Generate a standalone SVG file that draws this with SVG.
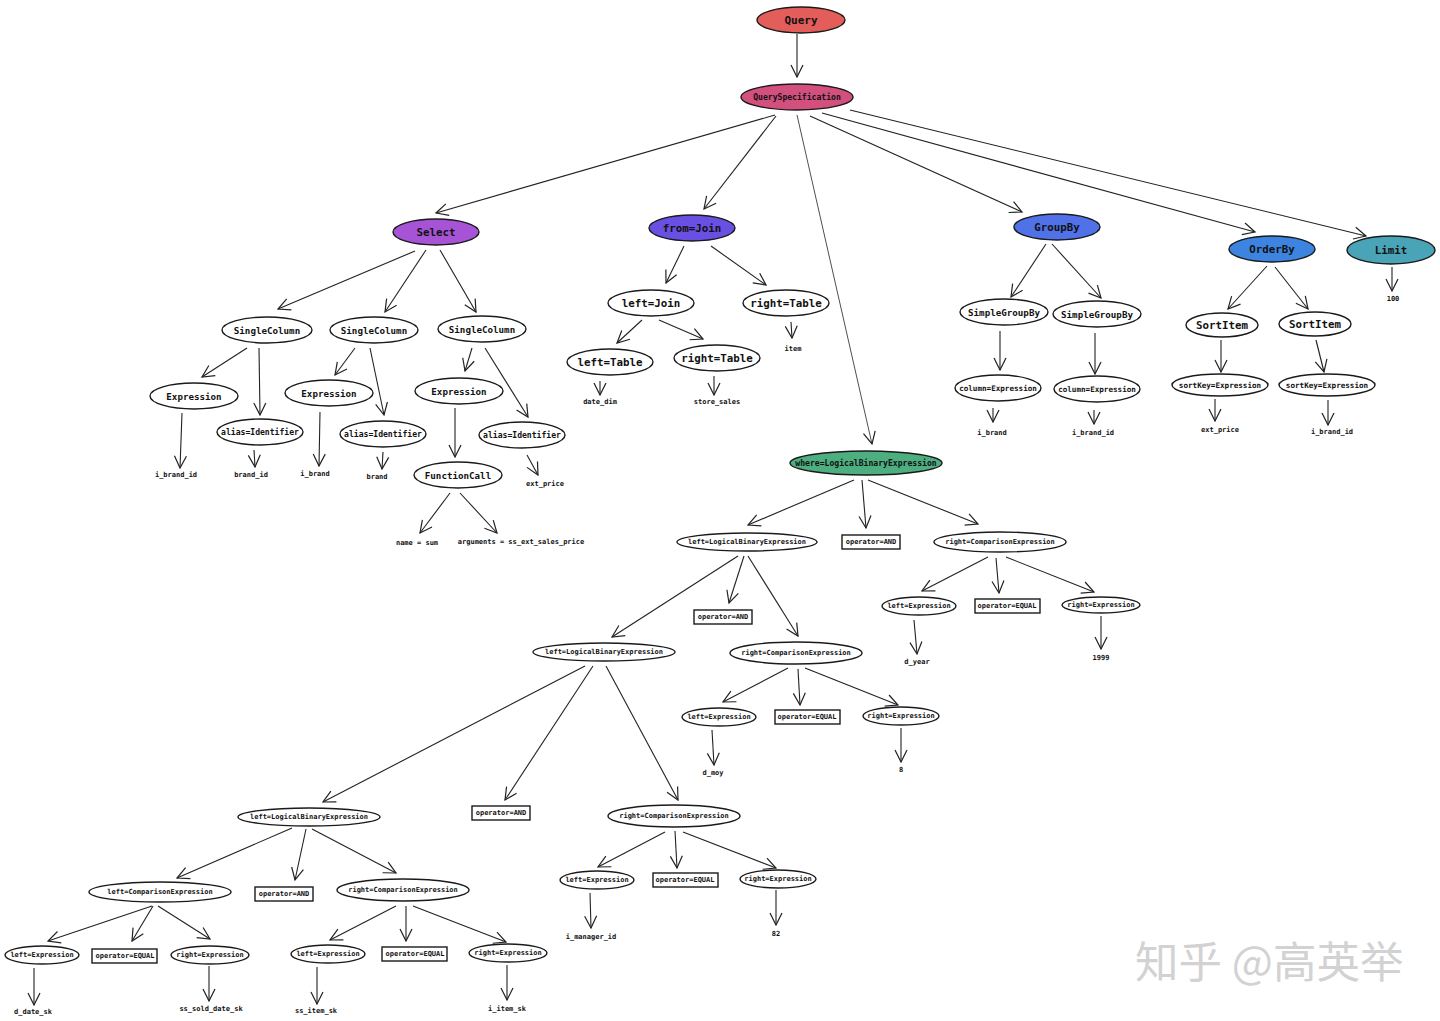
<svg xmlns="http://www.w3.org/2000/svg" width="1440" height="1021" viewBox="0 0 1440 1021">
<defs>
<marker id="a" viewBox="0 0 14 14" refX="13" refY="7" markerWidth="14" markerHeight="14" markerUnits="userSpaceOnUse" orient="auto"><path d="M1,1 L13,7 L1,13" fill="none" stroke="#222" stroke-width="1.2"/></marker>
<style>
.e{fill:#fff;stroke:#1a1a1a;stroke-width:1.4}
.r{fill:#fff;stroke:#1a1a1a;stroke-width:1.4}
text{font-family:"DejaVu Sans Mono","Liberation Mono",monospace;font-weight:bold;fill:#111;text-anchor:middle;dominant-baseline:central}
.c line{stroke:#222;stroke-width:1.1;marker-end:url(#a)}
.t11{font-size:11px}.t10{font-size:10.8px}.t9{font-size:9.2px}.t8{font-size:8.1px}.t75{font-size:7.6px}.t7{font-size:7px}
.wm{font-family:"Noto Sans CJK SC",sans-serif;font-weight:normal;font-size:43.5px;fill:#d2d2d2;text-anchor:start;dominant-baseline:auto}
</style>
</defs>
<rect width="1440" height="1021" fill="#fff"/>
<g class="c">
<line x1="797" y1="34" x2="797" y2="77"/>
<line x1="775" y1="115" x2="436" y2="213"/>
<line x1="776" y1="116" x2="704" y2="209"/>
<line x1="797" y1="115" x2="872" y2="444" style="stroke-width:0.8"/>
<line x1="810" y1="116" x2="1022" y2="212"/>
<line x1="822" y1="113" x2="1255" y2="232"/>
<line x1="850" y1="110" x2="1366" y2="236"/>
<line x1="415" y1="251" x2="278" y2="309"/>
<line x1="426" y1="250" x2="385" y2="312"/>
<line x1="440" y1="250" x2="476" y2="312"/>
<line x1="247" y1="348" x2="202" y2="377"/>
<line x1="259" y1="348" x2="260" y2="415"/>
<line x1="355" y1="348" x2="335" y2="375"/>
<line x1="370" y1="348" x2="384" y2="415"/>
<line x1="472" y1="348" x2="465" y2="371"/>
<line x1="485" y1="348" x2="528" y2="417"/>
<line x1="182" y1="413" x2="180" y2="468"/>
<line x1="254" y1="450" x2="255" y2="467"/>
<line x1="320" y1="412" x2="319" y2="466"/>
<line x1="383" y1="452" x2="382" y2="469"/>
<line x1="455" y1="408" x2="455" y2="457"/>
<line x1="527" y1="455" x2="538" y2="475"/>
<line x1="450" y1="493" x2="420" y2="533"/>
<line x1="460" y1="493" x2="497" y2="533"/>
<line x1="684" y1="246" x2="666" y2="283"/>
<line x1="711" y1="246" x2="766" y2="285"/>
<line x1="642" y1="320" x2="617" y2="343"/>
<line x1="659" y1="320" x2="703" y2="339"/>
<line x1="791" y1="322" x2="792" y2="338"/>
<line x1="600" y1="381" x2="600" y2="395"/>
<line x1="714" y1="376" x2="714" y2="395"/>
<line x1="1046" y1="244" x2="1011" y2="297"/>
<line x1="1052" y1="244" x2="1101" y2="298"/>
<line x1="1000" y1="331" x2="1000" y2="370"/>
<line x1="1095" y1="333" x2="1095" y2="374"/>
<line x1="993" y1="408" x2="993" y2="422"/>
<line x1="1094" y1="410" x2="1094" y2="424"/>
<line x1="1267" y1="266" x2="1228" y2="309"/>
<line x1="1275" y1="267" x2="1308" y2="309"/>
<line x1="1221" y1="340" x2="1221" y2="372"/>
<line x1="1316" y1="340" x2="1324" y2="372"/>
<line x1="1215" y1="399" x2="1215" y2="421"/>
<line x1="1328" y1="400" x2="1328" y2="425"/>
<line x1="1392" y1="267" x2="1392" y2="291"/>
<line x1="854" y1="480" x2="748" y2="525"/>
<line x1="862" y1="480" x2="866" y2="528"/>
<line x1="868" y1="480" x2="978" y2="524"/>
<line x1="738" y1="556" x2="612" y2="637"/>
<line x1="744" y1="556" x2="729" y2="603"/>
<line x1="748" y1="556" x2="798" y2="636"/>
<line x1="988" y1="557" x2="922" y2="591"/>
<line x1="996" y1="558" x2="999" y2="593"/>
<line x1="1006" y1="557" x2="1094" y2="592"/>
<line x1="914" y1="620" x2="917" y2="654"/>
<line x1="1101" y1="616" x2="1101" y2="649"/>
<line x1="788" y1="668" x2="723" y2="702"/>
<line x1="798" y1="669" x2="800" y2="705"/>
<line x1="805" y1="668" x2="898" y2="705"/>
<line x1="712" y1="730" x2="714" y2="765"/>
<line x1="901" y1="728" x2="901" y2="762"/>
<line x1="585" y1="666" x2="323" y2="802"/>
<line x1="593" y1="666" x2="505" y2="800"/>
<line x1="606" y1="666" x2="678" y2="800"/>
<line x1="665" y1="832" x2="598" y2="867"/>
<line x1="675" y1="831" x2="677" y2="868"/>
<line x1="683" y1="832" x2="776" y2="868"/>
<line x1="590" y1="893" x2="591" y2="928"/>
<line x1="776" y1="890" x2="776" y2="925"/>
<line x1="292" y1="828" x2="177" y2="878"/>
<line x1="306" y1="829" x2="295" y2="880"/>
<line x1="312" y1="829" x2="396" y2="873"/>
<line x1="152" y1="906" x2="48" y2="941"/>
<line x1="153" y1="906" x2="132" y2="941"/>
<line x1="158" y1="906" x2="210" y2="939"/>
<line x1="34" y1="968" x2="34" y2="1005"/>
<line x1="209" y1="966" x2="209" y2="1001"/>
<line x1="396" y1="906" x2="330" y2="940"/>
<line x1="406" y1="906" x2="406" y2="941"/>
<line x1="413" y1="906" x2="506" y2="942"/>
<line x1="317" y1="967" x2="317" y2="1004"/>
<line x1="507" y1="965" x2="507" y2="1000"/>
</g>
<g id="query"><ellipse class="e" cx="801" cy="20" rx="44" ry="13" style="fill:#e35d5b"/><text class="t11" x="801" y="20">Query</text></g>
<g id="queryspec"><ellipse class="e" cx="797" cy="97" rx="56" ry="13" style="fill:#d24f7e"/><text class="t8" x="797" y="97">QuerySpecification</text></g>
<g id="select"><ellipse class="e" cx="436" cy="232" rx="43" ry="13" style="fill:#a653d6"/><text class="t10" x="436" y="232">Select</text></g>
<g id="fromjoin"><ellipse class="e" cx="692" cy="228" rx="43" ry="13" style="fill:#6a50e2"/><text class="t10" x="692" y="228">from=Join</text></g>
<g id="groupby"><ellipse class="e" cx="1057" cy="227" rx="43" ry="13" style="fill:#5071e8"/><text class="t10" x="1057" y="227">GroupBy</text></g>
<g id="orderby"><ellipse class="e" cx="1272" cy="249" rx="43" ry="13" style="fill:#3c84e0"/><text class="t10" x="1272" y="249">OrderBy</text></g>
<g id="limit"><ellipse class="e" cx="1391" cy="250" rx="44" ry="14" style="fill:#4aa4b7"/><text class="t10" x="1391" y="250">Limit</text><text class="t7" x="1393" y="299">100</text></g>
<g id="where"><ellipse class="e" cx="866" cy="463" rx="76" ry="12" style="fill:#4dae80"/><text class="t8" x="866" y="463">where=LogicalBinaryExpression</text></g>
<g id="sc1"><ellipse class="e" cx="267" cy="330" rx="45" ry="13"/><text class="t9" x="267" y="330">SingleColumn</text></g>
<g id="sc2"><ellipse class="e" cx="374" cy="330" rx="44" ry="13"/><text class="t9" x="374" y="330">SingleColumn</text></g>
<g id="sc3"><ellipse class="e" cx="482" cy="329" rx="44" ry="13"/><text class="t9" x="482" y="329">SingleColumn</text></g>
<g id="expr1"><ellipse class="e" cx="194" cy="396" rx="44" ry="13"/><text class="t9" x="194" y="396">Expression</text><text class="t7" x="176" y="475">i_brand_id</text></g>
<g id="alias1"><ellipse class="e" cx="260" cy="432" rx="43" ry="13"/><text class="t8" x="260" y="432">alias=Identifier</text><text class="t7" x="251" y="475">brand_id</text></g>
<g id="expr2"><ellipse class="e" cx="329" cy="393" rx="44" ry="13"/><text class="t9" x="329" y="393">Expression</text><text class="t7" x="315" y="474">i_brand</text></g>
<g id="alias2"><ellipse class="e" cx="383" cy="434" rx="43" ry="13"/><text class="t8" x="383" y="434">alias=Identifier</text><text class="t7" x="377" y="477">brand</text></g>
<g id="expr3"><ellipse class="e" cx="459" cy="391" rx="44" ry="13"/><text class="t9" x="459" y="391">Expression</text></g>
<g id="alias3"><ellipse class="e" cx="522" cy="435" rx="43" ry="13"/><text class="t8" x="522" y="435">alias=Identifier</text><text class="t7" x="545" y="484">ext_price</text></g>
<g id="funccall"><ellipse class="e" cx="458" cy="475" rx="44" ry="13"/><text class="t9" x="458" y="475">FunctionCall</text><text class="t7" x="417" y="543">name = sum</text><text class="t7" x="521" y="542">arguments = ss_ext_sales_price</text></g>
<g id="leftjoin"><ellipse class="e" cx="651" cy="303" rx="43" ry="13"/><text class="t10" x="651" y="303">left=Join</text></g>
<g id="righttable1"><ellipse class="e" cx="786" cy="303" rx="43" ry="13"/><text class="t10" x="786" y="303">right=Table</text><text class="t7" x="793" y="349">item</text></g>
<g id="lefttable"><ellipse class="e" cx="610" cy="362" rx="43" ry="13"/><text class="t10" x="610" y="362">left=Table</text><text class="t7" x="600" y="402">date_dim</text></g>
<g id="righttable2"><ellipse class="e" cx="717" cy="358" rx="43" ry="13"/><text class="t10" x="717" y="358">right=Table</text><text class="t7" x="717" y="402">store_sales</text></g>
<g id="sg1"><ellipse class="e" cx="1004" cy="312" rx="44" ry="13"/><text class="t9" x="1004" y="312">SimpleGroupBy</text></g>
<g id="sg2"><ellipse class="e" cx="1097" cy="314" rx="44" ry="13"/><text class="t9" x="1097" y="314">SimpleGroupBy</text></g>
<g id="colexpr1"><ellipse class="e" cx="998" cy="388" rx="43" ry="13"/><text class="t75" x="998" y="388">column=Expression</text><text class="t7" x="992" y="433">i_brand</text></g>
<g id="colexpr2"><ellipse class="e" cx="1097" cy="389" rx="43" ry="13"/><text class="t75" x="1097" y="389">column=Expression</text><text class="t7" x="1093" y="433">i_brand_id</text></g>
<g id="sortitem1"><ellipse class="e" cx="1222" cy="325" rx="36" ry="12"/><text class="t10" x="1222" y="325">SortItem</text></g>
<g id="sortitem2"><ellipse class="e" cx="1315" cy="324" rx="36" ry="12"/><text class="t10" x="1315" y="324">SortItem</text></g>
<g id="sortkey1"><ellipse class="e" cx="1220" cy="385" rx="48" ry="11"/><text class="t75" x="1220" y="385">sortKey=Expression</text><text class="t7" x="1220" y="430">ext_price</text></g>
<g id="sortkey2"><ellipse class="e" cx="1327" cy="385" rx="48" ry="11"/><text class="t75" x="1327" y="385">sortKey=Expression</text><text class="t7" x="1332" y="432">i_brand_id</text></g>
<g id="l1"><ellipse class="e" cx="747" cy="542" rx="70" ry="9"/><text class="t7" x="747" y="542">left=LogicalBinaryExpression</text></g>
<g id="op1"><rect class="r" x="842" y="535" width="58" height="14"/><text class="t7" x="871" y="542">operator=AND</text></g>
<g id="r1"><ellipse class="e" cx="1000" cy="542" rx="66" ry="10"/><text class="t7" x="1000" y="542">right=ComparisonExpression</text></g>
<g id="r1l"><ellipse class="e" cx="919" cy="606" rx="37" ry="9"/><text class="t7" x="919" y="606">left=Expression</text><text class="t7" x="917" y="662">d_year</text></g>
<g id="r1op"><rect class="r" x="975" y="599" width="65" height="14"/><text class="t7" x="1007" y="606">operator=EQUAL</text></g>
<g id="r1r"><ellipse class="e" cx="1101" cy="605" rx="39" ry="8"/><text class="t7" x="1101" y="605">right=Expression</text><text class="t7" x="1101" y="658">1999</text></g>
<g id="l2"><ellipse class="e" cx="604" cy="652" rx="71" ry="9"/><text class="t7" x="604" y="652">left=LogicalBinaryExpression</text></g>
<g id="op2"><rect class="r" x="694" y="610" width="58" height="14"/><text class="t7" x="723" y="617">operator=AND</text></g>
<g id="r2"><ellipse class="e" cx="796" cy="653" rx="66" ry="11"/><text class="t7" x="796" y="653">right=ComparisonExpression</text></g>
<g id="r2l"><ellipse class="e" cx="719" cy="717" rx="37" ry="9"/><text class="t7" x="719" y="717">left=Expression</text><text class="t7" x="713" y="773">d_moy</text></g>
<g id="r2op"><rect class="r" x="775" y="710" width="65" height="14"/><text class="t7" x="807" y="717">operator=EQUAL</text></g>
<g id="r2r"><ellipse class="e" cx="901" cy="716" rx="38" ry="9"/><text class="t7" x="901" y="716">right=Expression</text><text class="t7" x="901" y="770">8</text></g>
<g id="l3"><ellipse class="e" cx="309" cy="817" rx="71" ry="9"/><text class="t7" x="309" y="817">left=LogicalBinaryExpression</text></g>
<g id="op3"><rect class="r" x="472" y="806" width="58" height="14"/><text class="t7" x="501" y="813">operator=AND</text></g>
<g id="r3"><ellipse class="e" cx="674" cy="816" rx="66" ry="11"/><text class="t7" x="674" y="816">right=ComparisonExpression</text></g>
<g id="r3l"><ellipse class="e" cx="597" cy="880" rx="37" ry="9"/><text class="t7" x="597" y="880">left=Expression</text><text class="t7" x="591" y="937">i_manager_id</text></g>
<g id="r3op"><rect class="r" x="653" y="873" width="65" height="14"/><text class="t7" x="685" y="880">operator=EQUAL</text></g>
<g id="r3r"><ellipse class="e" cx="778" cy="879" rx="38" ry="9"/><text class="t7" x="778" y="879">right=Expression</text><text class="t7" x="776" y="934">82</text></g>
<g id="l4"><ellipse class="e" cx="160" cy="892" rx="71" ry="10"/><text class="t7" x="160" y="892">left=ComparisonExpression</text></g>
<g id="op4"><rect class="r" x="255" y="887" width="58" height="14"/><text class="t7" x="284" y="894">operator=AND</text></g>
<g id="r4"><ellipse class="e" cx="403" cy="890" rx="66" ry="11"/><text class="t7" x="403" y="890">right=ComparisonExpression</text></g>
<g id="l4l"><ellipse class="e" cx="42" cy="955" rx="37" ry="9"/><text class="t7" x="42" y="955">left=Expression</text><text class="t7" x="33" y="1012">d_date_sk</text></g>
<g id="l4op"><rect class="r" x="92" y="949" width="65" height="14"/><text class="t7" x="125" y="956">operator=EQUAL</text></g>
<g id="l4r"><ellipse class="e" cx="210" cy="955" rx="39" ry="9"/><text class="t7" x="210" y="955">right=Expression</text><text class="t7" x="211" y="1009">ss_sold_date_sk</text></g>
<g id="r4l"><ellipse class="e" cx="328" cy="954" rx="37" ry="9"/><text class="t7" x="328" y="954">left=Expression</text><text class="t7" x="316" y="1011">ss_item_sk</text></g>
<g id="r4op"><rect class="r" x="382" y="947" width="65" height="14"/><text class="t7" x="415" y="954">operator=EQUAL</text></g>
<g id="r4r"><ellipse class="e" cx="508" cy="953" rx="39" ry="9"/><text class="t7" x="508" y="953">right=Expression</text><text class="t7" x="507" y="1009">i_item_sk</text></g>
<text class="wm" x="1135" y="978">知乎 @高英举</text>
</svg>
